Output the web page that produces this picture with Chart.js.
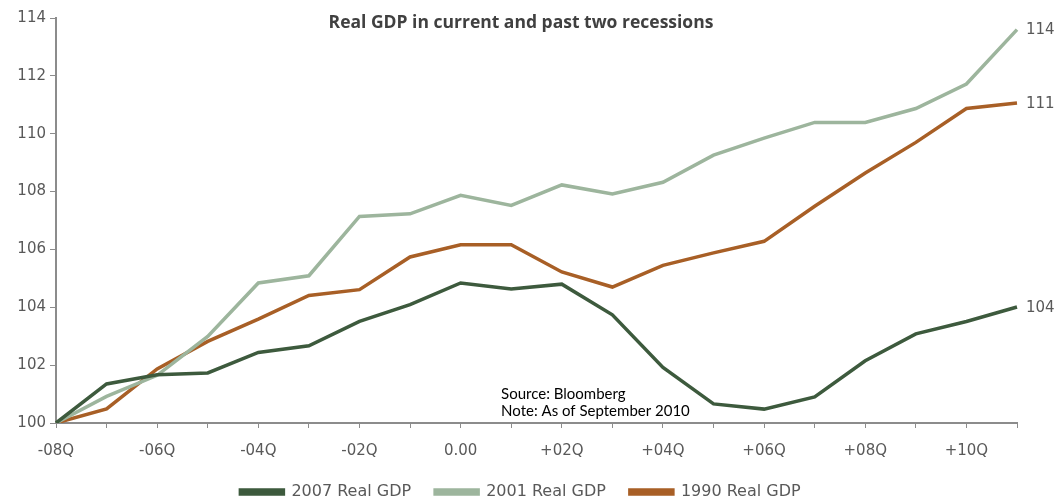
<!DOCTYPE html>
<html>
<head>
<meta charset="utf-8">
<script src="https://cdn.jsdelivr.net/npm/chart.js@4"></script>
<style>
  html, body { margin: 0; padding: 0; background: #fff; }
  #wrap { width: 1055px; height: 499px; }
</style>
</head>
<body>
<div id="wrap"><canvas id="gdpChart" width="1055" height="499"></canvas></div>
<script>
// quarters relative to the start of each recession
var quarters = ['-08Q', '-07Q', '-06Q', '-05Q', '-04Q', '-03Q', '-02Q', '-01Q', '0.00', '+01Q',
                '+02Q', '+03Q', '+04Q', '+05Q', '+06Q', '+07Q', '+08Q', '+09Q', '+10Q', '+11Q'];

// real GDP indexed to 100
var gdp2007 = [100, 101.35, 101.67, 101.73, 102.44, 102.67, 103.51, 104.09, 104.84, 104.63,
               104.80, 103.74, 101.92, 100.66, 100.48, 100.90, 102.15, 103.08, 103.51, 104.01];
var gdp2001 = [100, 100.92, 101.65, 102.99, 104.84, 105.09, 107.14, 107.23, 107.87, 107.52,
               108.23, 107.92, 108.32, 109.26, 109.85, 110.39, 110.39, 110.87, 111.72, 113.60];
var gdp1990 = [100, 100.49, 101.87, 102.82, 103.59, 104.41, 104.61, 105.74, 106.16, 106.16,
               105.22, 104.70, 105.45, 105.88, 106.28, 107.49, 108.64, 109.70, 110.87, 111.06];

var seriesNames = ['2007 Real GDP', '2001 Real GDP', '1990 Real GDP'];
var endLabels = ['104', '114', '111'];
var chartTitle = 'Real GDP in current and past two recessions';
var noteLines = ['Source: Bloomberg', 'Note: As of September 2010'];

var axisGray = '#8c8c8c';
var textGray = '#595959';

// title, source note and the value labels at the end of each line
var annotations = {
    id: 'annotations',
    afterLayout: function (chart) {
        // legend sits a little right of the canvas centre in the original
        chart.legend.left += 12;
        chart.legend.right += 12;
    },
    afterDatasetsDraw: function (chart) {
        var ctx = chart.ctx;
        var x = chart.scales.x;
        var y = chart.scales.y;
        ctx.save();

        ctx.fillStyle = '#404040';
        ctx.font = 'bold 17.5px "Open Sans"';
        ctx.textAlign = 'center';
        ctx.textBaseline = 'middle';
        ctx.fillText(chartTitle, 521, 23);

        ctx.fillStyle = '#000';
        ctx.font = '15px Lato';
        ctx.textAlign = 'left';
        ctx.fillText(noteLines[0], x.getPixelForValue(8.8), y.getPixelForValue(101.0));
        ctx.fillText(noteLines[1], x.getPixelForValue(8.8), y.getPixelForValue(100.4));

        ctx.fillStyle = textGray;
        ctx.font = '15px "DejaVu Sans"';
        chart.data.datasets.forEach(function (ds, i) {
            var last = ds.data.length - 1;
            ctx.fillText(endLabels[i], x.getPixelForValue(last) + 9, y.getPixelForValue(ds.data[last]) + 1);
        });
        ctx.restore();
    }
};

var ctx = document.getElementById('gdpChart');
new Chart(ctx, {
    type: 'line',
    data: {
        labels: quarters,
        datasets: [{
            label: seriesNames[0],
            data: gdp2007,
            borderColor: '#3d5a3d',
            backgroundColor: '#3d5a3d'
        }, {
            label: seriesNames[1],
            data: gdp2001,
            borderColor: '#9db59d',
            backgroundColor: '#9db59d'
        }, {
            label: seriesNames[2],
            data: gdp1990,
            borderColor: '#a85f26',
            backgroundColor: '#a85f26'
        }]
    },
    options: {
        responsive: false,
        animation: false,
        layout: { padding: { top: 18, right: 38, left: 0, bottom: -11 } },
        elements: {
            line: { borderWidth: 3.5, tension: 0 },
            point: { radius: 0, hoverRadius: 0 }
        },
        plugins: {
            title: { display: false },
            tooltip: { enabled: false },
            legend: {
                position: 'bottom',
                labels: {
                    boxWidth: 43,
                    boxHeight: 4,
                    padding: 24,
                    color: textGray,
                    font: { family: 'DejaVu Sans', size: 16 }
                }
            }
        },
        scales: {
            x: {
                afterFit: function (scale) { scale.height = 37; },
                grid: {
                    display: true,
                    drawOnChartArea: false,
                    drawTicks: true,
                    tickLength: 5,
                    color: axisGray
                },
                border: { color: axisGray, width: 2 },
                ticks: {
                    autoSkip: false,
                    maxRotation: 0,
                    padding: 14,
                    color: textGray,
                    font: { family: 'DejaVu Sans', size: 15 },
                    callback: function (value, index) {
                        return index % 2 === 0 ? quarters[index] : '';
                    }
                }
            },
            y: {
                min: 100,
                max: 114,
                afterFit: function (scale) { scale.width = 56; },
                grid: {
                    display: true,
                    drawOnChartArea: false,
                    drawTicks: true,
                    tickLength: 6,
                    color: axisGray
                },
                border: { color: axisGray, width: 2 },
                ticks: {
                    stepSize: 2,
                    padding: 4,
                    color: textGray,
                    font: { family: 'DejaVu Sans', size: 15 }
                }
            }
        }
    },
    plugins: [annotations]
});
</script>
</body>
</html>
